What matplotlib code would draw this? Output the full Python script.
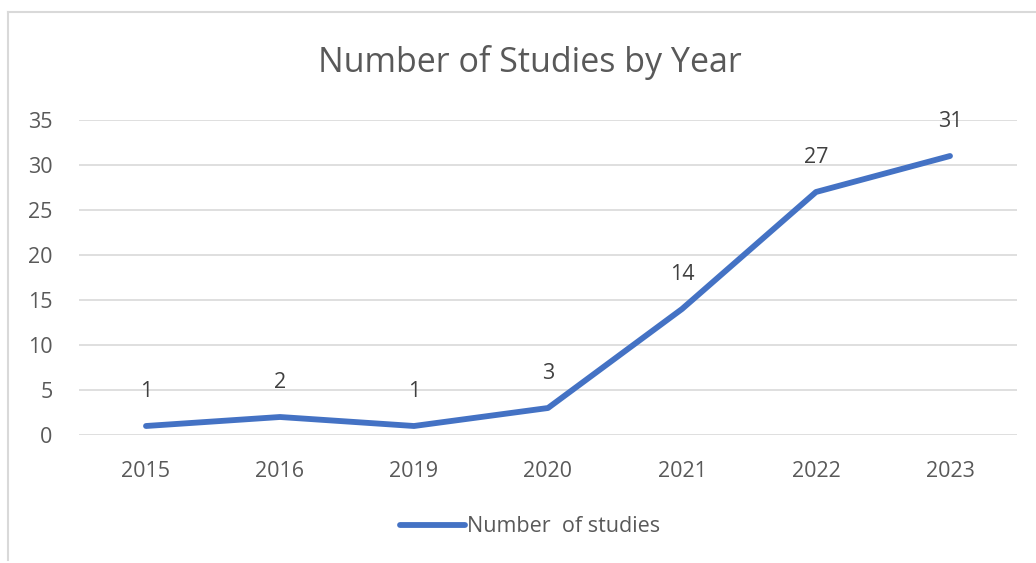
import matplotlib.pyplot as plt
from matplotlib.lines import Line2D

# Data
years = ["2015", "2016", "2019", "2020", "2021", "2022", "2023"]
studies = [1, 2, 1, 3, 14, 27, 31]

plt.rcParams['font.family'] = ['Open Sans', 'DejaVu Sans']

W, H = 1036, 563
fig = plt.figure(figsize=(W / 100, H / 100), dpi=100)

# chart border (left and top visible)
fig.add_artist(Line2D([8 / W, 8 / W], [1 - 560 / H, 1 - 12 / H], color='#D9D9D9', lw=1.5))
fig.add_artist(Line2D([8 / W, 1.0], [1 - 12 / H, 1 - 12 / H], color='#D9D9D9', lw=1.5))

ax = fig.add_axes([79 / W, 128 / H, 938 / W, 315 / H])
x = list(range(len(years)))
line, = ax.plot(x, studies, color='#4472C4', lw=4.2, solid_capstyle='round',
                solid_joinstyle='round', label='Number  of studies', zorder=3)

for xi, v in zip(x, studies):
    ax.annotate(str(v), (xi, v), xytext=(0, 25), textcoords='offset points',
                ha='center', va='center', fontsize=15.5, color='#404040')

ax.set_xlim(-0.5, len(years) - 0.5)
ax.set_ylim(0, 35)
ax.set_yticks(range(0, 36, 5))
ax.set_xticks(x)
ax.set_xticklabels(years)
ax.grid(axis='y', color='#D9D9D9', lw=1.2)
ax.set_axisbelow(True)
for s in ax.spines.values():
    s.set_visible(False)
ax.tick_params(length=0, labelsize=15.5, colors='#595959')
ax.tick_params(axis='y', pad=19)
ax.tick_params(axis='x', pad=19)

fig.text(530 / W, 1 - 62 / H, 'Number of Studies by Year', ha='center', va='center',
         fontsize=24.5, color='#595959')

fig.legend(handles=[line], loc='center', bbox_to_anchor=(530 / W, 1 - 527 / H),
           frameon=False, fontsize=15.5, labelcolor='#595959', handlelength=3.0,
           handletextpad=0.1)

fig.savefig('out.png', dpi=100)
